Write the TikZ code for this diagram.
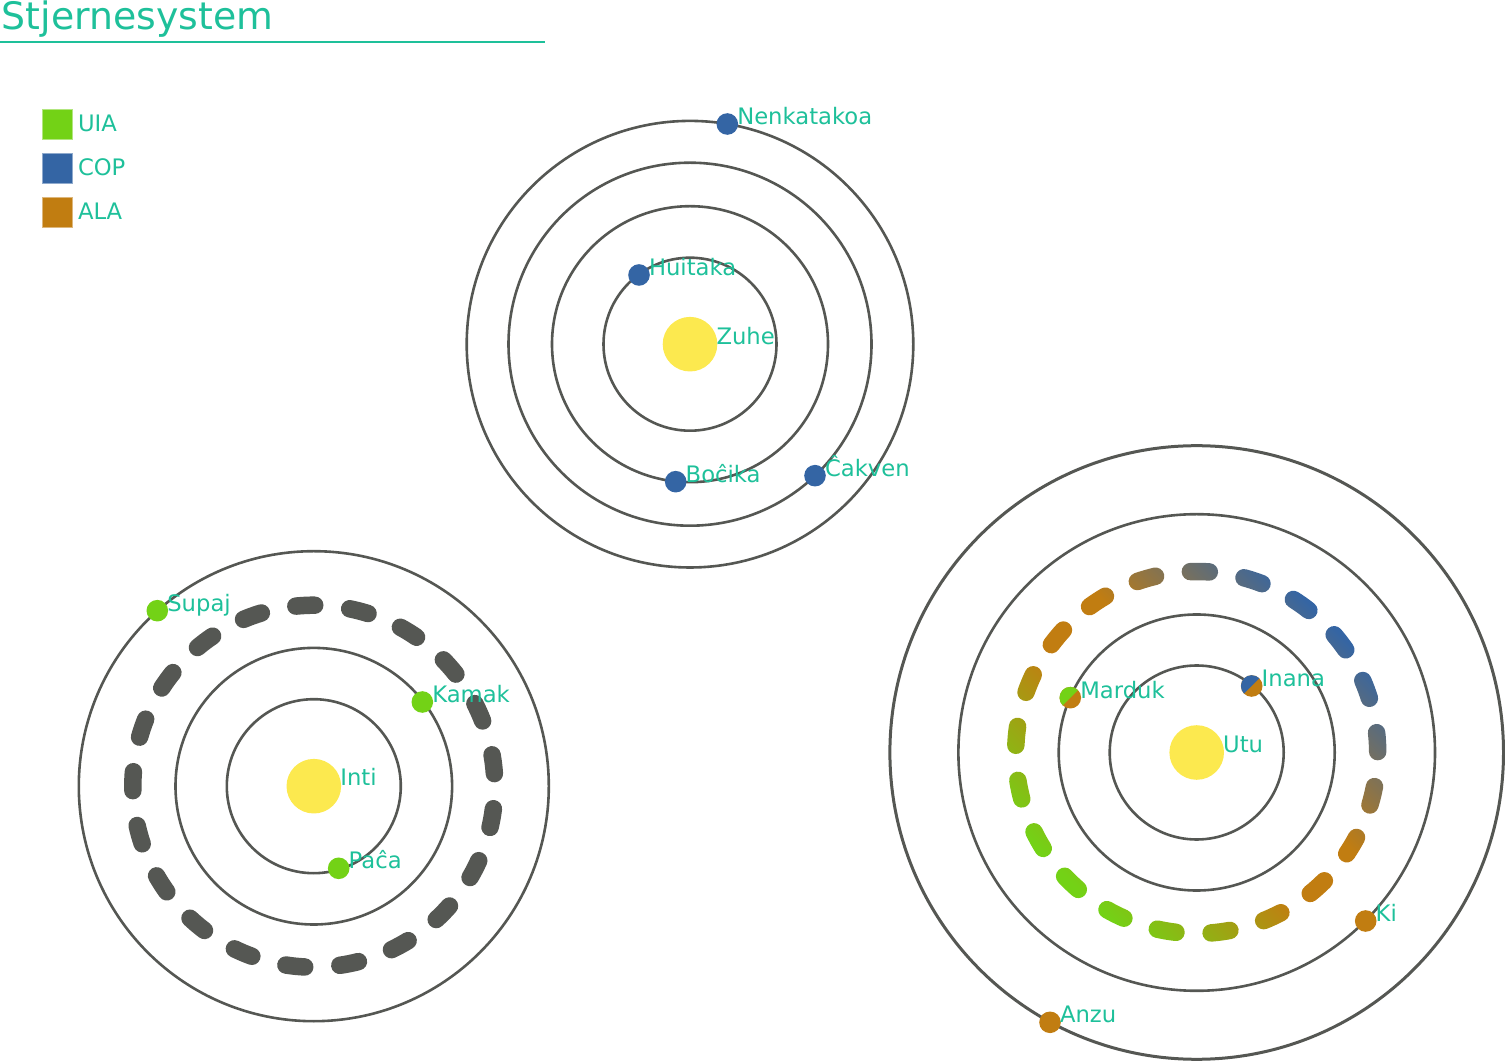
\documentclass[tikz,border=0pt]{standalone}
\usepackage{fontspec}
\setmainfont{DejaVu Sans}
\definecolor{tgreen}{HTML}{73D216}
\definecolor{tblue}{HTML}{3465A4}
\definecolor{torange}{HTML}{C17D11}
\definecolor{tstar}{HTML}{FCE94F}
\definecolor{tgray}{HTML}{555753}
\definecolor{tteal}{RGB}{30,192,154}
\pgfdeclarehorizontalshading{ringshade}{100bp}{color(0bp)=(tblue); color(3.75bp)=(tblue); color(40bp)=(torange); color(60bp)=(torange); color(95bp)=(tgreen); color(100bp)=(tgreen)}
\begin{document}
\begin{tikzpicture}[x=1pt,y=1pt,
  orbit/.style={draw=tgray, line width=2.6pt},
  grayring/.style={draw=tgray, line width=17.5pt, line cap=round},
  star/.style={circle, fill=tstar, minimum size=54.6pt, inner sep=0pt, outer sep=0pt},
  planet/.style={circle, minimum size=21.6pt, inner sep=0pt, outer sep=0pt},
  lbl/.style={anchor=base west, inner sep=0pt, outer sep=0pt, text=tteal, font=\fontsize{22.7}{27}\selectfont},
  legsq/.style={rectangle, minimum size=30pt, inner sep=0pt, line width=0.8pt},
  halfblue/.style={path picture={\fill[tblue] (path picture bounding box.south west) -- (path picture bounding box.north east) -- (path picture bounding box.north west) -- cycle;}},
  halfgreen/.style={path picture={\fill[tgreen] (path picture bounding box.south west) -- (path picture bounding box.north east) -- (path picture bounding box.north west) -- cycle;}}
]
\useasboundingbox (0,0) rectangle (1505,1061);

% title and legend
\node[anchor=base west, inner sep=0pt, text=tteal, font=\fontsize{37.8}{42}\selectfont] (title) at (1.6,1031.7) {Stjernesystem};
\draw[tteal, line width=1.7pt] (0,1019.3) coordinate (ulA) -- (545,1019.3) coordinate (ulB);
\node[legsq, fill=tgreen, draw=tgreen!55!white] (lg1) at (57.5,936.3) {};
\node[legsq, fill=tblue, draw=tblue!55!white] (lg2) at (57.5,892.8) {};
\node[legsq, fill=torange, draw=torange!55!white] (lg3) at (57.5,848.5) {};
\node[lbl] (lt1) at (78,929.3) {UIA};
\node[lbl] (lt2) at (78,885.8) {COP};
\node[lbl] (lt3) at (78,841.5) {ALA};

% star centres
\coordinate (czuhe) at (690,716.8);
\coordinate (cinti) at (313.8,274.8);
\coordinate (cutu) at (1196.7,308.5);

% orbits: Zuhe
\draw[orbit] (czuhe) circle[radius=86.5];
\draw[orbit] (czuhe) circle[radius=138];
\draw[orbit] (czuhe) circle[radius=181.5];
\draw[orbit] (czuhe) circle[radius=223.3];
% orbits: Inti
\draw[orbit] (cinti) circle[radius=87];
\draw[orbit] (cinti) circle[radius=138.3];
\draw[orbit] (cinti) circle[radius=235];
% orbits: Utu
\draw[orbit] (cutu) circle[radius=87];
\draw[orbit] (cutu) circle[radius=138];
\draw[orbit] (cutu) circle[radius=238.3];
\draw[orbit, line width=3pt] (cutu) circle[radius=306.8];

% dashed ring around Inti
\begin{scope}[shift={(cinti)}]
  \foreach \k in {0,...,20}{
    \draw[grayring] ({92.7+\k*360/21-3}:181) arc[start angle={92.7+\k*360/21-3}, delta angle=6, radius=181];
  }
\end{scope}

% gradient dashed ring around Utu
\begin{scope}
  \clip[shift={(1196.7,308.5)}] foreach \k in {0,...,20} {
    ({89+\k*360/21-3}:189.75) arc[start angle={89+\k*360/21-3}, delta angle=6, radius=189.75]
    arc[start angle={89+\k*360/21+3}, delta angle=180, radius=8.75]
    arc[start angle={89+\k*360/21+3}, delta angle=-6, radius=172.25]
    arc[start angle={89+\k*360/21+177}, delta angle=180, radius=8.75] -- cycle
  };
  \begin{scope}[transform canvas={shift={(1196.7,308.5)}, rotate=225, scale=4}]
    \node[inner sep=0pt, outer sep=0pt] (shd) at (0,0) {\pgfuseshading{ringshade}};
  \end{scope}
\end{scope}

% stars
\node[star] (zuhe) at (czuhe) {};
\node[star] (inti) at (cinti) {};
\node[star] (utu) at (cutu) {};
\node[lbl] (zuheL) at (716.5,716.7) {Zuhe};
\node[lbl] (intiL) at (340.3,275) {Inti};
\node[lbl] (utuL) at (1223.2,308.8) {Utu};

% planets
\node[planet, fill=tblue] (nenk) at (727.3,937) {};
\node[planet, fill=tblue] (huit) at (639,786) {};
\node[planet, fill=tblue] (boci) at (675.7,579.3) {};
\node[planet, fill=tblue] (cakv) at (815,585.3) {};
\node[planet, fill=tgreen] (supa) at (157.3,450.3) {};
\node[planet, fill=tgreen] (kama) at (422.3,359) {};
\node[planet, fill=tgreen] (paca) at (338.7,192.7) {};
\node[planet, fill=torange, halfgreen] (mard) at (1070.3,363.3) {};
\node[planet, fill=torange, halfblue] (inan) at (1251.7,375) {};
\node[planet, fill=torange] (ki) at (1365.7,140) {};
\node[planet, fill=torange] (anzu) at (1050,38.7) {};

\node[lbl] (nenkL) at (737.3,936.5) {Nenkatakoa};
\node[lbl] (huitL) at (649,785.5) {Huitaka};
\node[lbl] (bociL) at (685.7,578.8) {Boĉika};
\node[lbl] (cakvL) at (825,584.8) {Ĉakven};
\node[lbl] (supaL) at (167.3,449.8) {Supaj};
\node[lbl] (kamaL) at (432.3,358.5) {Kamak};
\node[lbl] (pacaL) at (348.7,192.2) {Paĉa};
\node[lbl] (mardL) at (1080.3,362.8) {Marduk};
\node[lbl] (inanL) at (1261.7,374.5) {Inana};
\node[lbl] (kiL) at (1375.7,139.5) {Ki};
\node[lbl] (anzuL) at (1060,38.2) {Anzu};
\end{tikzpicture}
\end{document}
